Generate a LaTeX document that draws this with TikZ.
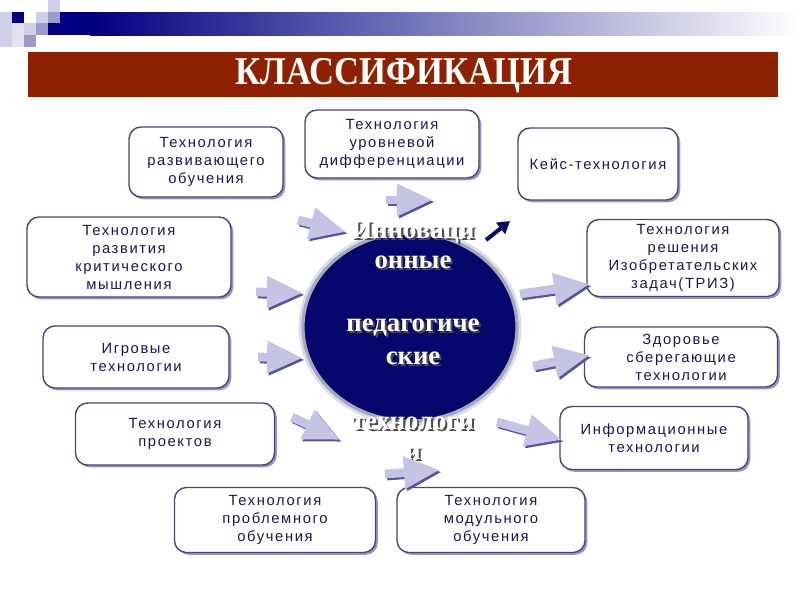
\documentclass[tikz,border=0pt]{standalone}
\usepackage{fontspec}
\setmainfont{Liberation Sans}
\newfontfamily\boxfont{Liberation Sans}[LetterSpace=11]
\newfontfamily\headfont{Liberation Serif}[FakeStretch=0.88]
\newfontfamily\hubfont{Liberation Serif}
\usepackage{tikz}
\usetikzlibrary{arrows.meta, shapes.geometric, shadows}
\definecolor{navybar}{HTML}{000080}
\definecolor{lavlight}{HTML}{CFCFE8}
\definecolor{lavmid}{HTML}{9C9CCC}
\definecolor{titlered}{HTML}{8E2200}
\definecolor{boxline}{HTML}{46467A}
\definecolor{boxshade}{HTML}{6A6AAA}
\definecolor{boxtext}{HTML}{18184E}
\definecolor{hubnavy}{HTML}{06066C}
\definecolor{ringgray}{HTML}{A8A8BC}
\definecolor{ringglow}{HTML}{DCDCEA}
\definecolor{arrowfill}{HTML}{C4C4E4}
\definecolor{arrowshade}{HTML}{55559A}

\begin{document}
\begin{tikzpicture}[x=0.025cm, y=-0.025cm,
    tbox/.style={draw=boxline, line width=1pt, fill=white, rounded corners=3mm,
        align=center, text=boxtext, inner sep=0pt,
        font=\boxfont\fontsize{10.5}{12.8}\selectfont,
        drop shadow={shadow xshift=1.6pt, shadow yshift=-1.6pt, fill=boxshade, opacity=0.7}},
    hub/.style={ellipse, fill=hubnavy, draw=ringgray, line width=0.8mm, inner sep=0pt,
        preaction={draw=ringglow, line width=2.2mm}},
    hubtext/.style={text=white, font=\hubfont\bfseries\fontsize{19}{21}\selectfont, inner sep=0pt},
    hubshade/.style={text=black!70, font=\hubfont\bfseries\fontsize{19}{21}\selectfont, inner sep=0pt},
    flagarrow/.style={line width=2.2mm, draw=arrowfill, -{Triangle[length=9mm, width=7.5mm]}},
    flagshadow/.style={line width=2.2mm, draw=arrowshade, -{Triangle[length=9mm, width=7.5mm]}},
    darkarrow/.style={line width=1mm, draw=hubnavy, -{Triangle[length=3mm, width=3.5mm]}}]
\useasboundingbox (0,0) rectangle (800,600);

% header strip
\fill[lavlight] (0,12) rectangle (12,47);
\fill[lavlight!60] (12,23) rectangle (24,47);
\fill[navybar] (12,12) rectangle (24,23);
\fill[lavlight] (24,23) rectangle (36,35);
\fill[lavmid] (24,35) rectangle (36,47);
\fill[lavlight] (36,12) rectangle (48,23);
\fill[lavmid] (36,23) rectangle (48,35);
\fill[lavlight] (48,0) rectangle (60,12);
\fill[navybar] (48,23) rectangle (90,35);
\fill[lavmid] (48,12) rectangle (60,23);
\fill[navybar] (60,12) rectangle (90,23);
\shade[left color=navybar, right color=white] (90,12) rectangle (800,35);

\node[fill=titlered, minimum width=187.5mm, minimum height=11.25mm, inner sep=0pt] (title) at (403,74.5) {};
\node[text=white, font=\headfont\bfseries\fontsize{28}{30}\selectfont] (titletext) at (404,76) {КЛАССИФИКАЦИЯ};

% centre
\node[hub, minimum width=53.5mm, minimum height=47mm] (hub) at (410,327) {};
\foreach \txt/\yy in {Инноваци/232, онные/262, педагогиче/328, ские/358, технологи/423, и/453} {
    \node[hubshade] at (415,\yy+2) {\txt};
    \node[hubtext] (h\yy) at (413,\yy) {\txt};
}

% boxes
\node[tbox, minimum width=38.5mm, minimum height=17.5mm] (razv) at (206,162) {Технология\\развивающего\\обучения};
\node[tbox, minimum width=43.5mm, minimum height=17mm] (urov) at (392,144) {Технология\\уровневой\\дифференциации};
\node[tbox, minimum width=40mm, minimum height=18mm] (keis) at (598,164) {Кейс-технология};
\node[tbox, minimum width=51mm, minimum height=20mm] (krit) at (129,257) {Технология\\развития\\критического\\мышления};
\node[tbox, minimum width=48mm, minimum height=19.25mm] (triz) at (683,258) {Технология\\решения\\Изобретательских\\задач(ТРИЗ)};
\node[tbox, minimum width=46.5mm, minimum height=15.5mm] (igr) at (136,357) {Игровые\\технологии};
\node[tbox, minimum width=48.25mm, minimum height=15mm] (zdor) at (681,357) {Здоровье\\сберегающие\\технологии};
\node[tbox, minimum width=49.75mm, minimum height=15.5mm] (proekt) at (175,434) {Технология\\проектов};
\node[tbox, minimum width=47mm, minimum height=15.75mm] (inform) at (654,438) {Информационные\\технологии};
\node[tbox, minimum width=50.25mm, minimum height=16.25mm] (probl) at (275,520) {Технология\\проблемного\\обучения};
\node[tbox, minimum width=47mm, minimum height=16.25mm] (modul) at (491,520) {Технология\\модульного\\обучения};

% arrows
\coordinate (a1s) at (298,220); \coordinate (a1e) at (346,232);
\coordinate (a2s) at (386,200); \coordinate (a2e) at (433,200);
\coordinate (a3s) at (520,294); \coordinate (a3e) at (590,284);
\coordinate (a4s) at (533,366); \coordinate (a4e) at (590,355);
\coordinate (a5s) at (497,422); \coordinate (a5e) at (562,440);
\coordinate (a6s) at (292,417); \coordinate (a6e) at (340,440);
\coordinate (a7s) at (256,292); \coordinate (a7e) at (303,293);
\coordinate (a8s) at (258,357); \coordinate (a8e) at (303,358);
\coordinate (a9s) at (385,474); \coordinate (a9e) at (440,470);
\coordinate (dks) at (486,240); \coordinate (dke) at (510,221);
\foreach \i in {1,...,9} {
    \draw[flagshadow] ([shift={(2,2)}]a\i s) -- ([shift={(2,2)}]a\i e);
    \draw[flagarrow] (a\i s) -- (a\i e);
}
\draw[darkarrow] (dks) -- (dke);
\end{tikzpicture}
\end{document}
